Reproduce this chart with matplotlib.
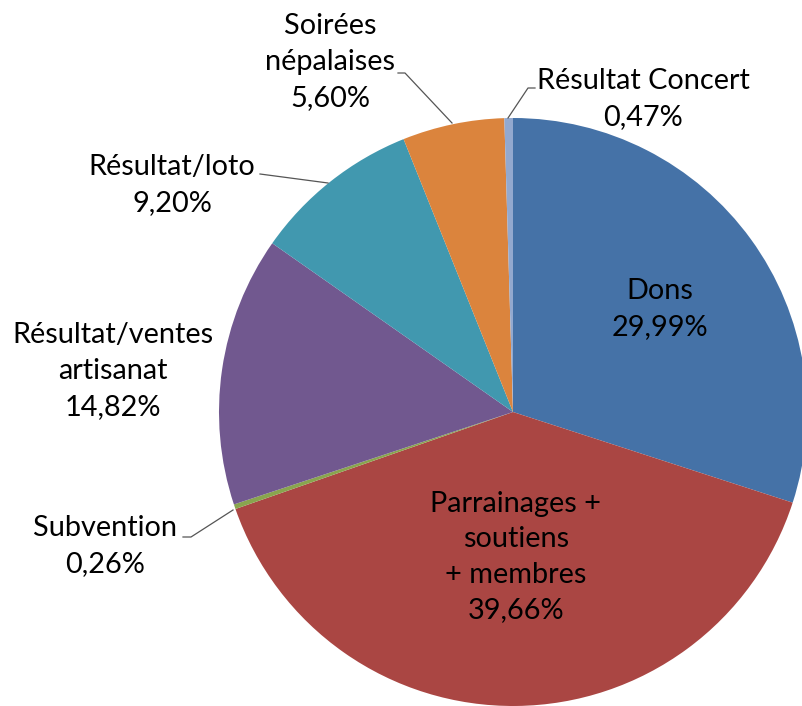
import matplotlib

matplotlib.use("Agg")
import matplotlib.pyplot as plt

# Part de chaque ressource (%)
categories = ["Dons", "Parrainages +\nsoutiens\n+ membres", "Subvention",
              "Résultat/ventes\nartisanat", "Résultat/loto",
              "Soirées\nnépalaises", "Résultat Concert"]
values = [29.99, 39.66, 0.26, 14.82, 9.20, 5.60, 0.47]
colors = ["#4572A7", "#AA4643", "#89A54E", "#71588F", "#4198AF",
          "#DB843D", "#93A9CF"]

W, H = 802, 706
INK = "#000000"
LEADER = "#555555"


def fmt(v):
    return f"{v:.2f}".replace(".", ",") + "%"


def py(y):
    # pixel row (top-down) -> data y (bottom-up)
    return H - y


fig = plt.figure(figsize=(W / 100, H / 100), dpi=100)
ax = fig.add_axes([0, 0, 1, 1])

cx, cy, r = 513, py(412), 294
ax.pie(values, colors=colors, startangle=90, counterclock=False,
       center=(cx, cy), radius=r, frame=True,
       wedgeprops=dict(linewidth=0))
ax.set_xlim(0, W)
ax.set_ylim(0, H)
ax.set_aspect("equal")
ax.axis("off")

fs = 20.8
kw = dict(ha="center", va="center", fontsize=fs, color=INK,
          family=["Lato", "DejaVu Sans"], linespacing=1.46)

# label centres, in pixel rows from the top
label_pos = [(660, 309), (516, 557), (105, 546), (113, 371), (172, 185),
             (330, 62), (643, 99)]
for name, v, (x, y) in zip(categories, values, label_pos):
    ax.text(x, py(y), f"{name}\n{fmt(v)}", **kw)

# leader lines for the outside labels
leaders = [
    [(398, 73), (405, 73), (452, 123)],
    [(535, 88), (528, 88), (508, 118)],
    [(260, 174), (328, 183)],
    [(183, 537), (191, 537), (233, 510)],
]
for pts in leaders:
    xs = [p[0] for p in pts]
    ys = [py(p[1]) for p in pts]
    ax.plot(xs, ys, color=LEADER, linewidth=0.9)

fig.savefig("out.png", dpi=100)
